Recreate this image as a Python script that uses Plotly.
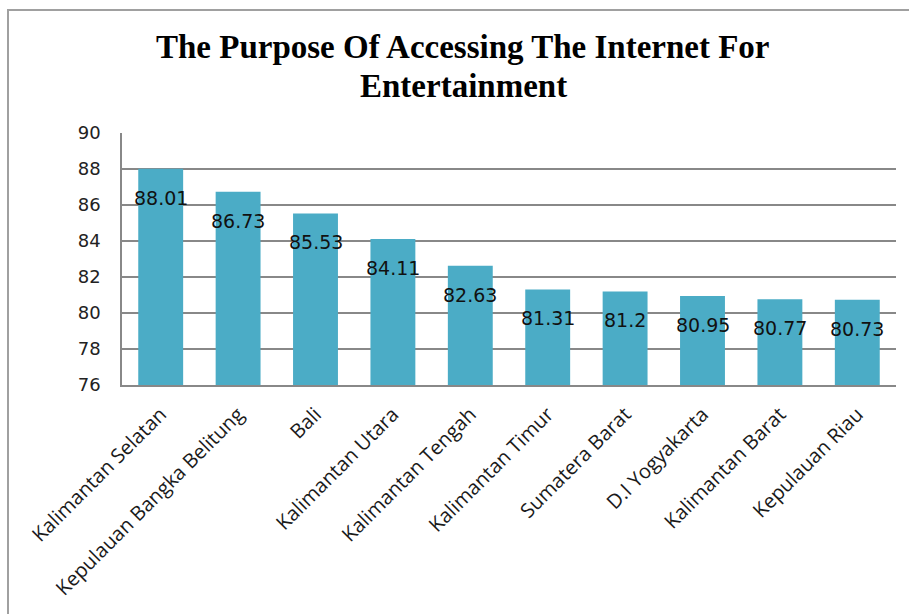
import plotly.graph_objects as go

categories = ["Kalimantan Selatan", "Kepulauan Bangka Belitung", "Bali", "Kalimantan Utara",
              "Kalimantan Tengah", "Kalimantan Timur", "Sumatera Barat", "D.I Yogyakarta",
              "Kalimantan Barat", "Kepulauan Riau"]
values = [88.01, 86.73, 85.53, 84.11, 82.63, 81.31, 81.2, 80.95, 80.77, 80.73]
y_ticks = [76, 78, 80, 82, 84, 86, 88, 90]
title_lines = ["The Purpose Of Accessing The Internet For", "Entertainment"]

W, H = 909, 614
L, R, T, B = 122, 896, 133, 385


def px_x(p):
    return (p - L) / (R - L)


def px_y(p):
    return (B - p) / (B - T)


fig = go.Figure()
fig.add_trace(go.Bar(x=categories, y=values, marker=dict(color="#4BACC6", line=dict(width=0)),
                     hoverinfo="skip"))

for c, v in zip(categories, values):
    fig.add_annotation(x=c, y=v, text=f"{v:g}", showarrow=False, yshift=-29,
                       font=dict(family="DejaVu Sans", size=19, color="#111"))

for line, yc in zip(title_lines, [47, 86]):
    fig.add_annotation(xref="paper", yref="paper", x=px_x(463), y=px_y(yc), text=f"<b>{line}</b>",
                       showarrow=False, xanchor="center", yanchor="middle",
                       font=dict(family="Liberation Serif", size=33, color="#000"))

fig.update_layout(
    width=W, height=H,
    margin=dict(l=L, r=W - R, t=T, b=H - B, pad=0, autoexpand=False),
    paper_bgcolor="white", plot_bgcolor="white",
    showlegend=False,
    bargap=0.42,
    xaxis=dict(tickangle=-45, showgrid=False, showline=True, linecolor="#888", linewidth=1.5,
               ticks="", automargin=False, ticklabelstandoff=8,
               tickfont=dict(family="Open Sans", size=20, color="#1a1a1a")),
    yaxis=dict(range=[76, 90], tickvals=y_ticks, showgrid=True, gridcolor="#888", gridwidth=1.5,
               showline=True, linecolor="#888", linewidth=1.5, ticks="", zeroline=False,
               ticklabelstandoff=16, automargin=False,
               tickfont=dict(family="DejaVu Sans", size=18, color="#222")),
)

# outer chart frame
fig.add_shape(type="rect", xref="paper", yref="paper", x0=px_x(8), x1=1.2, y0=-2, y1=px_y(10),
              line=dict(color="#A0A0A0", width=2), fillcolor="rgba(0,0,0,0)", layer="below")

fig.write_html("out.html", config={"displayModeBar": False},
               post_script="document.body.style.margin='0';")
